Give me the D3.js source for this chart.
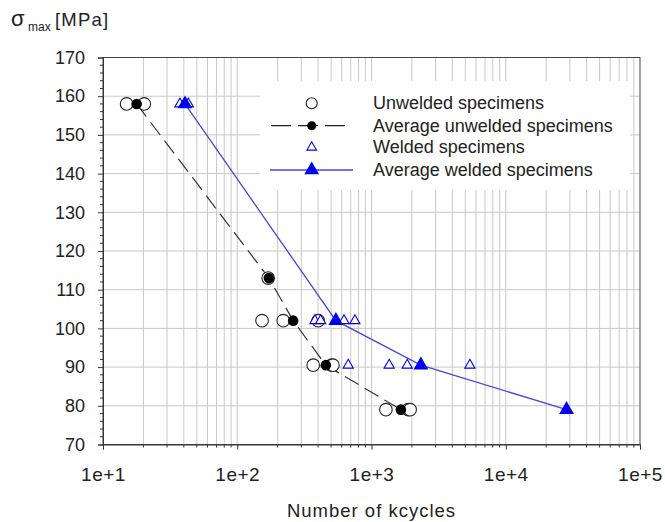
<!DOCTYPE html>
<html>
<head>
<meta charset="utf-8">
<script src="https://cdn.jsdelivr.net/npm/d3@7/dist/d3.min.js"></script>
<style>
  body { margin: 0; background: #fff; }
  text { font-family: "Liberation Sans", Arial, sans-serif; fill: #222; }
</style>
</head>
<body>
<div id="chart"></div>
<script>
// individual unwelded specimens (kcycles, MPa)
const unweldedX = [15.0, 20.3, 170, 153, 220, 401, 368, 505, 516, 1280, 1877, 1940];
const unweldedY = [158, 158, 113, 102, 102, 102, 90.5, 90.5, 90.5, 79, 79, 79];
// averages unwelded
const avgUnweldedX = [17.8, 172, 261, 457, 1655];
const avgUnweldedY = [158, 113, 102, 90.5, 79];
// individual welded specimens
const weldedX = [37.4, 40.8, 43.2, 379, 418, 624, 752, 671, 1355, 1845, 5405, 28370];
const weldedY = [158, 158, 158, 102, 102, 102, 102, 90.5, 90.5, 90.5, 90.5, 79];
// averages welded
const avgWeldedX = [40.8, 543, 2333, 28370];
const avgWeldedY = [158, 102, 90.5, 79];

const xTicks = [1e1, 1e2, 1e3, 1e4, 1e5];
const xTickLabels = ["1e+1", "1e+2", "1e+3", "1e+4", "1e+5"];
const yTicks = [70, 80, 90, 100, 110, 120, 130, 140, 150, 160, 170];
const legendLabels = ["Unwelded specimens", "Average unwelded specimens", "Welded specimens", "Average welded specimens"];

const W = 665, H = 522;
const margin = {top: 57.5, left: 103, right: 25, bottom: 77.5};
const width = W - margin.left - margin.right;
const height = H - margin.top - margin.bottom;
const blue = "#0000ee";

const svg = d3.select("#chart").append("svg")
    .attr("width", W)
    .attr("height", H);
const g = svg.append("g")
    .attr("transform", `translate(${margin.left},${margin.top})`);

const x = d3.scaleLog().domain([10, 1e5]).range([0, width]);
const y = d3.scaleLinear().domain([70, 170]).range([height, 0]);

// minor positions on the log axis
const xMinor = [];
[1e1, 1e2, 1e3, 1e4].forEach(d => { for (let k = 1; k <= 9; k++) xMinor.push(d * k); });
const yMinor = d3.range(70, 171, 2);

// grid
g.append("g").selectAll("line").data(xMinor.filter(d => d > 10))
  .enter().append("line")
    .attr("x1", d => x(d)).attr("x2", d => x(d))
    .attr("y1", 0).attr("y2", height)
    .attr("stroke", "#c8c8c8").attr("stroke-width", 1);
g.append("g").selectAll("line").data(yTicks.slice(1, -1))
  .enter().append("line")
    .attr("x1", 0).attr("x2", width)
    .attr("y1", d => y(d)).attr("y2", d => y(d))
    .attr("stroke", "#c8c8c8").attr("stroke-width", 1);

// legend background hides the grid
g.append("rect")
    .attr("x", 157).attr("y", 23.5)
    .attr("width", 370).attr("height", 109)
    .attr("fill", "#fff");

// frame
g.append("rect")
    .attr("width", width).attr("height", height)
    .attr("fill", "none").attr("stroke", "#444").attr("stroke-width", 1);

// axes
const xAxis = g.append("g")
    .attr("transform", `translate(0,${height})`)
    .call(d3.axisBottom(x).tickValues(xTicks).tickFormat((d, i) => xTickLabels[i]).tickSize(5).tickPadding(18));
xAxis.append("g").selectAll("line").data(xMinor.filter(d => !xTicks.includes(d)))
  .enter().append("line")
    .attr("x1", d => x(d)).attr("x2", d => x(d))
    .attr("y1", 0).attr("y2", 3)
    .attr("stroke", "#333");

const yAxis = g.append("g")
    .call(d3.axisLeft(y).tickValues(yTicks).tickSize(5).tickPadding(13));
yAxis.append("g").selectAll("line").data(yMinor.filter(d => d % 10 !== 0))
  .enter().append("line")
    .attr("x1", -3).attr("x2", 0)
    .attr("y1", d => y(d)).attr("y2", d => y(d))
    .attr("stroke", "#333");

[xAxis, yAxis].forEach(a => {
  a.select(".domain").attr("stroke", "#333");
  a.selectAll(".tick line").attr("stroke", "#333");
  a.selectAll("text").attr("fill", "#222");
});
yAxis.selectAll("text").style("font-size", "18px");
xAxis.selectAll("text").style("font-size", "19px").style("letter-spacing", "0.5px");

// lines
const line = d3.line().x(d => x(d[0])).y(d => y(d[1]));
g.append("path")
    .datum(d3.zip(avgUnweldedX, avgUnweldedY))
    .attr("d", line)
    .attr("fill", "none").attr("stroke", "#333")
    .attr("stroke-width", 1.2).attr("stroke-dasharray", "16,7");
g.append("path")
    .datum(d3.zip(avgWeldedX, avgWeldedY))
    .attr("d", line)
    .attr("fill", "none").attr("stroke", "#4646d8")
    .attr("stroke-width", 1.3);

const tri = d3.symbol().type(d3.symbolTriangle);

// points
g.append("g").selectAll("circle").data(d3.zip(unweldedX, unweldedY))
  .enter().append("circle")
    .attr("cx", d => x(d[0])).attr("cy", d => y(d[1]))
    .attr("r", 6.3)
    .attr("fill", "#fff").attr("stroke", "#222").attr("stroke-width", 1.1);
g.append("g").selectAll("path").data(d3.zip(weldedX, weldedY))
  .enter().append("path")
    .attr("transform", d => `translate(${x(d[0])},${y(d[1])})`)
    .attr("d", tri.size(45)())
    .attr("fill", "#fff").attr("stroke", blue).attr("stroke-width", 1.1);
g.append("g").selectAll("circle").data(d3.zip(avgUnweldedX, avgUnweldedY))
  .enter().append("circle")
    .attr("cx", d => x(d[0])).attr("cy", d => y(d[1]))
    .attr("r", 5.3)
    .attr("fill", "#000");
g.append("g").selectAll("path").data(d3.zip(avgWeldedX, avgWeldedY))
  .enter().append("path")
    .attr("transform", d => `translate(${x(d[0])},${y(d[1])})`)
    .attr("d", tri.size(95)())
    .attr("fill", blue);

// legend
const lg = svg.append("g");
const rowY = [103.3, 125.7, 147.3, 170];
const symX = 311.7;
lg.append("circle").attr("cx", symX).attr("cy", rowY[0]).attr("r", 5.5)
    .attr("fill", "#fff").attr("stroke", "#222").attr("stroke-width", 1.1);
lg.append("line").attr("x1", 271).attr("x2", 346).attr("y1", rowY[1]).attr("y2", rowY[1])
    .attr("stroke", "#222").attr("stroke-width", 1.2).attr("stroke-dasharray", "20,7");
lg.append("circle").attr("cx", symX).attr("cy", rowY[1]).attr("r", 4.5).attr("fill", "#000");
lg.append("path").attr("transform", `translate(${symX},${rowY[2]})`)
    .attr("d", tri.size(40)())
    .attr("fill", "#fff").attr("stroke", blue).attr("stroke-width", 1.1);
lg.append("line").attr("x1", 270).attr("x2", 353).attr("y1", rowY[3]).attr("y2", rowY[3])
    .attr("stroke", "#4646d8").attr("stroke-width", 1.3);
lg.append("path").attr("transform", `translate(${symX},${rowY[3]})`)
    .attr("d", tri.size(95)())
    .attr("fill", blue);
lg.selectAll("text").data(legendLabels)
  .enter().append("text")
    .attr("x", 373).attr("y", (d, i) => rowY[i] + 6)
    .style("font-size", "18px")
    .text(d => d);

// axis titles
svg.append("text")
    .attr("x", margin.left + width / 2).attr("y", 517)
    .attr("text-anchor", "middle")
    .style("font-size", "18.5px").style("letter-spacing", "1px")
    .text("Number of kcycles");
const yt = svg.append("text").attr("y", 26).style("font-size", "18.5px");
yt.append("tspan").attr("x", 11).style("font-size", "22px").text("σ");
yt.append("tspan").attr("x", 28).attr("dy", 5).style("font-size", "12px").text("max");
yt.append("tspan").attr("x", 55).attr("dy", -5).style("letter-spacing", "1.2px").text("[MPa]");
</script>
</body>
</html>
